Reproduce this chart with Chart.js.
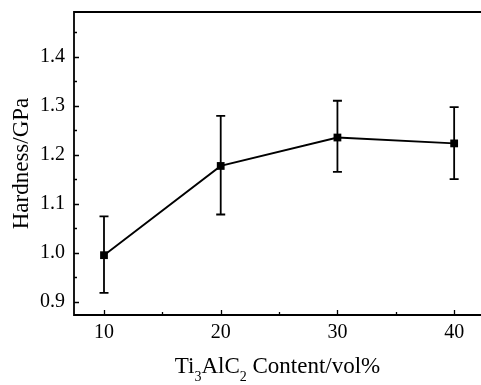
<!DOCTYPE html>
<html>
<head>
<meta charset="utf-8">
<script src="https://cdn.jsdelivr.net/npm/chart.js@4/dist/chart.umd.min.js"></script>
<style>
html,body{margin:0;padding:0;background:#fff;}
#wrap{width:481px;height:385px;position:relative;}
</style>
</head>
<body>
<div id="wrap"><canvas id="c"></canvas></div>
<script>
// ---- data ----
const contents = [10, 20, 30, 40];              // Ti3AlC2 content, vol%
const hardness = [0.995, 1.177, 1.235, 1.223];  // GPa
const errLow   = [0.918, 1.078, 1.165, 1.150];
const errHigh  = [1.074, 1.279, 1.310, 1.297];
const xTicks = [10, 20, 30, 40];
const xMinorTicks = [15, 25, 35];
const yTicks = [0.9, 1.0, 1.1, 1.2, 1.3, 1.4];
const yMinorTicks = [0.95, 1.05, 1.15, 1.25, 1.35, 1.45];
const yTitle = 'Hardness/GPa';
const xTitleParts = [['Ti', false], ['3', true], ['AlC', false], ['2', true], [' Content/vol%', false]];

const FONT = '"Liberation Serif", "Times New Roman", serif';

const framePlugin = {
  id: 'frame',
  beforeDatasetsDraw(chart) {
    const ctx = chart.ctx;
    const xs = chart.scales.x, ys = chart.scales.y;
    ctx.save();
    ctx.strokeStyle = '#000';
    ctx.lineWidth = 1.8;
    ctx.lineCap = 'butt';
    for (let i = 0; i < contents.length; i++) {
      const x = xs.getPixelForValue(contents[i]);
      const yl = ys.getPixelForValue(errLow[i]);
      const yh = ys.getPixelForValue(errHigh[i]);
      ctx.beginPath();
      ctx.moveTo(x, yl); ctx.lineTo(x, yh);
      ctx.moveTo(x - 4.5, yl); ctx.lineTo(x + 4.5, yl);
      ctx.moveTo(x - 4.5, yh); ctx.lineTo(x + 4.5, yh);
      ctx.stroke();
    }
    ctx.restore();
  },
  afterDraw(chart) {
    const ctx = chart.ctx;
    const a = chart.chartArea;
    const xs = chart.scales.x, ys = chart.scales.y;
    ctx.save();
    ctx.strokeStyle = '#000';
    ctx.lineWidth = 1.8;
    ctx.beginPath();
    ctx.moveTo(chart.width, a.top); ctx.lineTo(a.left, a.top);
    ctx.lineTo(a.left, a.bottom); ctx.lineTo(chart.width, a.bottom);
    ctx.stroke();
    ctx.lineWidth = 1.3;
    ctx.beginPath();
    yTicks.forEach(v => { const y = Math.round(ys.getPixelForValue(v)) + 0.5; ctx.moveTo(a.left, y); ctx.lineTo(a.left + 5, y); });
    yMinorTicks.forEach(v => { const y = Math.round(ys.getPixelForValue(v)) + 0.5; ctx.moveTo(a.left, y); ctx.lineTo(a.left + 3, y); });
    xTicks.forEach(v => { const x = Math.round(xs.getPixelForValue(v)) + 0.5; ctx.moveTo(x, a.bottom); ctx.lineTo(x, a.bottom - 5); });
    xMinorTicks.forEach(v => { const x = Math.round(xs.getPixelForValue(v)) + 0.5; ctx.moveTo(x, a.bottom); ctx.lineTo(x, a.bottom - 3); });
    ctx.stroke();

    // y title
    ctx.fillStyle = '#000';
    ctx.font = '23px ' + FONT;
    ctx.textAlign = 'center';
    ctx.textBaseline = 'alphabetic';
    ctx.translate(28, (a.top + a.bottom) / 2);
    ctx.rotate(-Math.PI / 2);
    ctx.fillText(yTitle, 0, 0);
    ctx.setTransform(1, 0, 0, 1, 0, 0);

    // x title with subscripts
    const mainFont = '23px ' + FONT, subFont = '14px ' + FONT;
    let total = 0;
    xTitleParts.forEach(([t, sub]) => { ctx.font = sub ? subFont : mainFont; total += ctx.measureText(t).width; });
    let x = (a.left + a.right) / 2 - total / 2;
    const base = 373;
    ctx.textAlign = 'left';
    xTitleParts.forEach(([t, sub]) => {
      ctx.font = sub ? subFont : mainFont;
      ctx.fillText(t, x, sub ? base + 8 : base);
      x += ctx.measureText(t).width;
    });
    ctx.restore();
  }
};

new Chart(document.getElementById('c'), {
  type: 'line',
  data: {
    datasets: [{
      data: contents.map((c, i) => ({ x: c, y: hardness[i] })),
      borderColor: '#000',
      backgroundColor: '#000',
      borderWidth: 1.8,
      pointStyle: 'rect',
      pointRadius: 5.5,
      pointBorderWidth: 0,
      tension: 0
    }]
  },
  options: {
    responsive: true,
    maintainAspectRatio: false,
    animation: false,
    layout: { padding: { top: 12, right: 0, left: 0, bottom: 0 }, autoPadding: false },
    plugins: { legend: { display: false }, tooltip: { enabled: false } },
    scales: {
      x: {
        type: 'linear',
        min: 7.43, max: 42.3,
        grid: { display: false, drawTicks: false },
        border: { display: false },
        afterBuildTicks: s => { s.ticks = xTicks.map(v => ({ value: v })); },
        afterFit: s => { s.height = 70; s.paddingLeft = 0; s.paddingRight = 0; },
        ticks: { color: '#000', padding: 6, font: { family: FONT, size: 20 }, callback: v => String(v) }
      },
      y: {
        type: 'linear',
        min: 0.873, max: 1.491,
        grid: { display: false, drawTicks: false },
        border: { display: false },
        afterBuildTicks: s => { s.ticks = yTicks.map(v => ({ value: v })); },
        afterFit: s => { s.width = 74; s.paddingTop = 0; s.paddingBottom = 0; },
        ticks: { color: '#000', padding: 9, font: { family: FONT, size: 20 }, callback: v => Number(v).toFixed(1) }
      }
    }
  },
  plugins: [framePlugin]
});
</script>
</body>
</html>
